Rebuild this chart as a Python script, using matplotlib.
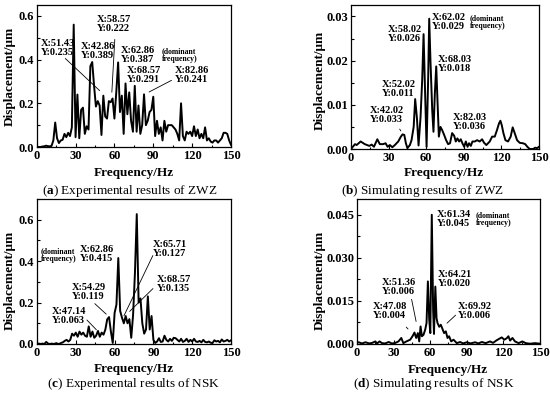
import numpy as np
import matplotlib
matplotlib.use('Agg')
import matplotlib.pyplot as plt
from matplotlib.ticker import MultipleLocator, FormatStrFormatter

plt.rcParams['font.family'] = 'Liberation Serif'
plt.rcParams['mathtext.fontset'] = 'custom'
plt.rcParams['mathtext.rm'] = 'Liberation Serif'
plt.rcParams['mathtext.bf'] = 'Liberation Serif:bold'

# frequency bins of the measured spectra (Hz)
freq_exp = [
    0.00, 1.43, 2.86, 4.29, 5.71, 7.14, 8.57,
    10.00, 11.43, 12.86, 14.29, 15.71, 17.14, 18.57,
    20.00, 21.43, 22.86, 24.29, 25.71, 27.14, 28.57,
    30.00, 31.43, 32.86, 34.29, 35.71, 37.14, 38.57,
    40.00, 41.43, 42.86, 44.29, 45.71, 47.14, 48.57,
    50.00, 51.43, 52.86, 54.29, 55.71, 57.14, 58.57,
    60.00, 61.43, 62.86, 64.29, 65.71, 67.14, 68.57,
    70.00, 71.43, 72.86, 74.29, 75.71, 77.14, 78.57,
    80.00, 81.43, 82.86, 84.29, 85.71, 87.14, 88.57,
    90.00, 91.43, 92.86, 94.29, 95.71, 97.14, 98.57,
    100.00, 101.43, 102.86, 104.29, 105.71, 107.14, 108.57,
    110.00, 111.43, 112.86, 114.29, 115.71, 117.14, 118.57,
    120.00, 121.43, 122.86, 124.29, 125.71, 127.14, 128.57,
    130.00, 131.43, 132.86, 134.29, 135.71, 137.14, 138.57,
    140.00, 141.43, 142.86, 144.29, 145.71, 147.14, 148.57,
    150.00]

# (a) experimental, ZWZ
disp_zwz_exp = [
    0.0, 0.0, 0.0, 0.002, 0.003, 0.006, 0.004,
    0.003, 0.005, 0.03, 0.112, 0.04, 0.018, 0.03,
    0.033, 0.06, 0.045, 0.065, 0.05, 0.09, 0.56,
    0.045, 0.24, 0.04, 0.17, 0.18, 0.06, 0.095,
    0.08, 0.37, 0.389, 0.28, 0.185, 0.21, 0.19,
    0.055, 0.235, 0.14, 0.13, 0.21, 0.205, 0.222,
    0.13, 0.25, 0.387, 0.16, 0.235, 0.06, 0.291,
    0.15, 0.25, 0.12, 0.07, 0.28, 0.07, 0.19,
    0.06, 0.1, 0.241, 0.1, 0.12, 0.16, 0.17,
    0.23, 0.05, 0.12, 0.06, 0.09, 0.03, 0.12,
    0.07, 0.1, 0.1, 0.1, 0.09, 0.08, 0.06,
    0.03, 0.2, 0.05, 0.03, 0.07, 0.06, 0.07,
    0.05, 0.095, 0.05, 0.08, 0.04, 0.06, 0.04,
    0.09, 0.03, 0.04, 0.025, 0.02, 0.03, 0.03,
    0.02, 0.03, 0.04, 0.065, 0.065, 0.06, 0.03,
    0.01]

# (c) experimental, NSK
disp_nsk_exp = [
    0.0, 0.002, 0.0, 0.002, 0.0, 0.01, 0.002,
    0.0, 0.002, 0.0, 0.003, 0.002, 0.0, 0.005,
    0.008, 0.015, 0.02, 0.012, 0.02, 0.05, 0.04,
    0.055, 0.035, 0.06, 0.045, 0.055, 0.04, 0.035,
    0.085, 0.035, 0.06, 0.03, 0.04, 0.063, 0.035,
    0.055, 0.045, 0.07, 0.119, 0.13, 0.06, 0.005,
    0.15, 0.19, 0.415, 0.16, 0.127, 0.1, 0.135,
    0.1, 0.12, 0.03, 0.14, 0.34, 0.627, 0.2,
    0.22, 0.1, 0.05, 0.07, 0.23, 0.07, 0.135,
    0.02, 0.005, 0.012, 0.028, 0.01, 0.012, 0.04,
    0.02, 0.012, 0.025, 0.015, 0.03, 0.028, 0.02,
    0.012, 0.025, 0.01, 0.015, 0.025, 0.01, 0.02,
    0.012, 0.025, 0.012, 0.01, 0.015, 0.008, 0.02,
    0.01, 0.008, 0.012, 0.006, 0.005, 0.018, 0.012,
    0.015, 0.008, 0.022, 0.012, 0.015, 0.02, 0.012,
    0.018]

# (b) simulation, ZWZ
freq_zwz_sim = [
    0, 3.2, 4.5, 7.7, 11, 14.6, 16.5, 18.3, 21, 23, 25.6, 27.6, 29.2, 31,
    33, 35, 37.7, 39.8, 41.1, 42.5, 43.8, 45, 47, 48.3, 50, 51.2, 52.6, 53.9,
    55.5, 56.8, 57.9, 59.2, 60.3, 61.6, 62.4, 63.4, 64.8, 65.8, 66.9, 68, 69,
    70.1, 71.4, 72.7, 74.3, 75.9, 77.5, 79, 80.7, 82.3, 83.6, 84.9, 86.3,
    87.6, 88.9, 90.3, 91.6, 93, 94.2, 95.6, 96.9, 98.8, 100.6, 102.7, 104.6,
    106.2, 108, 110.7, 112.6, 114.7, 116.5, 118.1, 119.2, 120.3, 121.6,
    123.2, 125.3, 127.4, 129, 130.6, 132.5, 134.6, 137.2, 139, 140.7, 142.6,
    145.2, 147, 148.5, 150]
disp_zwz_sim = [
    0, 0.0011, 0.0009, 0.0017, 0.0011, 0.0007, 0.001, 0.0005, 0.0022, 0.0011,
    0.0011, 0.0013, 0.0005, 0.0009, 0.0004, 0.0009, 0.0017, 0.0028, 0.0033,
    0.0032, 0.0013, 0.0002, 0.0009, 0.002, 0.005, 0.0113, 0.007, 0.0008,
    0.0073, 0.0156, 0.026, 0.0119, 0.0005, 0.0164, 0.0295, 0.02, 0.0088,
    0.0039, 0.0126, 0.0187, 0.011, 0.0028, 0.005, 0.0043, 0.0032, 0.002,
    0.0011, 0.0013, 0.0036, 0.003, 0.0017, 0.0024, 0.0017, 0.0022, 0.0013,
    0.0005, 0.0017, 0.0005, 0.0013, 0.0007, 0.0017, 0.0017, 0.002, 0.0017,
    0.0022, 0.0014, 0.0009, 0.0017, 0.0028, 0.0028, 0.0043, 0.0058, 0.0064,
    0.0054, 0.0036, 0.002, 0.0017, 0.0028, 0.0049, 0.0036, 0.002, 0.0014,
    0.0013, 0.0011, 0.0005, 0.0, 0.0, 0.0003, 0.0002, 0.0005]

# (d) simulation, NSK
freq_nsk_sim = [
    0, 1.5, 4, 7, 10, 12.5, 15, 16.5, 18.5, 20.5, 23, 26, 28.5, 31, 34, 36.3,
    38, 40.5, 43.6, 45.5, 47.1, 48.5, 49.9, 51, 52.1, 53.2, 54.5, 55.9, 57,
    58.1, 59.2, 60.1, 61.3, 62.4, 63.1, 64.2, 65.2, 66, 67.4, 68.7, 70.1,
    71.4, 72.8, 74.2, 75.5, 77.2, 79.1, 81.8, 84.5, 87, 90, 93, 96.8, 99.5,
    102.3, 105.5, 109, 111.5, 114.5, 118.6, 120.8, 122.7, 124.1, 125.5,
    127.4, 129.5, 132.5, 135.5, 138.3, 141.8, 146, 150]
disp_nsk_sim = [
    0.0005, 0.0006, 0.0002, 0.0006, 0.0002, 0.0004, 0.0009, 0.0002, 0.0009,
    0.0003, 0.0002, 0.0007, 0.0002, 0.0003, 0.0009, 0.0021, 0.0003, 0.0009,
    0.0015, 0.0027, 0.004, 0.0021, 0.0038, 0.0009, 0.0061, 0.0027, 0.0032,
    0.005, 0.0073, 0.0218, 0.0085, 0.0038, 0.045, 0.012, 0.0035, 0.020,
    0.009, 0.0073, 0.006, 0.0067, 0.0052, 0.0038, 0.0044, 0.0021, 0.0027,
    0.0009, 0.0015, 0.0003, 0.0007, 0.0002, 0.0006, 0.0002, 0.0006, 0.0002,
    0.0007, 0.0003, 0.0009, 0.0004, 0.0013, 0.0023, 0.0015, 0.002, 0.0027,
    0.0012, 0.0021, 0.0009, 0.0003, 0.0009, 0.0003, 0.0001, 0.0003, 0.0001]

W, H = 550, 393


def rect(left, top, right, bottom):
    return [left / W, 1 - bottom / H, (right - left) / W, (bottom - top) / H]


def style(ax, ymax, ymaj, fmt):
    ax.set_xlim(0, 150)
    ax.set_ylim(0, ymax)
    ax.xaxis.set_major_locator(MultipleLocator(30))
    ax.xaxis.set_minor_locator(MultipleLocator(15))
    ax.yaxis.set_major_locator(MultipleLocator(ymaj))
    ax.yaxis.set_minor_locator(MultipleLocator(ymaj / 2))
    ax.yaxis.set_major_formatter(FormatStrFormatter(fmt))
    ax.tick_params(which='both', direction='in', width=0.8, pad=2)
    ax.tick_params(which='major', length=3)
    ax.tick_params(which='minor', length=1.8)
    for lab in ax.get_xticklabels() + ax.get_yticklabels():
        lab.set_fontweight('bold')
        lab.set_fontsize(9)
    for s in ax.spines.values():
        s.set_linewidth(0.9)


def note(ax, x, y, s, size=7.5):
    ax.text(x, y, s, transform=ax.transAxes, fontsize=size, fontweight='bold',
            ha='left', va='top', linespacing=1.0)


def leader(ax, start, end):
    ax.annotate('', xy=end, xytext=start,
                arrowprops=dict(arrowstyle='-', color='black', lw=0.6))


fig = plt.figure(figsize=(5.5, 3.93), dpi=100)

axa = fig.add_axes(rect(36.7, 5, 231, 147))
axb = fig.add_axes(rect(351, 5, 539, 149))
axc = fig.add_axes(rect(37, 199, 231, 344))
axd = fig.add_axes(rect(357, 199, 540, 344))

axa.plot(freq_exp, disp_zwz_exp, color='black', lw=1.4)
axb.plot(freq_zwz_sim, disp_zwz_sim, color='black', lw=1.4)
axc.plot(freq_exp, disp_nsk_exp, color='black', lw=1.4)
axd.plot(freq_nsk_sim, disp_nsk_sim, color='black', lw=1.4)

style(axa, 0.65, 0.2, '%.1f')
style(axb, 0.0326, 0.01, '%.2f')
style(axc, 0.70, 0.2, '%.1f')
style(axd, 0.0505, 0.015, '%.3f')

# (a) annotations
note(axa, 0.022, 0.758, 'X:51.43\nY:0.235')
leader(axa, (20.5, 0.414), (50.2, 0.249))
note(axa, 0.309, 0.93, 'X:58.57\nY:0.222')
leader(axa, (60.4, 0.505), (57.9, 0.238))
note(axa, 0.228, 0.742, 'X:42.86\nY:0.389')
note(axa, 0.432, 0.711, 'X:62.86\nY:0.387')
note(axa, 0.645, 0.704, '(dominant\nfrequency)', size=5.6)
note(axa, 0.463, 0.570, 'X:68.57\nY:0.291')
note(axa, 0.712, 0.570, 'X:82.86\nY:0.241')
leader(axa, (106, 0.311), (84.9, 0.246))

# (b) annotations
note(axb, 0.431, 0.944, 'X:62.02\nY:0.029')
note(axb, 0.632, 0.938, '(dominant\nfrequency)', size=5.6)
note(axb, 0.197, 0.861, 'X:58.02\nY:0.026')
note(axb, 0.463, 0.653, 'X:68.03\nY:0.018')
note(axb, 0.165, 0.479, 'X:52.02\nY:0.011')
note(axb, 0.101, 0.299, 'X:42.02\nY:0.033')
leader(axb, (37.7, 0.00505), (40.9, 0.00355))
note(axb, 0.543, 0.25, 'X:82.03\nY:0.036')

# (c) annotations
note(axc, 0.018, 0.669, '(dominant\nfrequency)', size=5.6)
note(axc, 0.222, 0.683, 'X:62.86\nY:0.415')
note(axc, 0.598, 0.717, 'X:65.71\nY:0.127')
leader(axc, (90.5, 0.439), (66.3, 0.124))
note(axc, 0.180, 0.421, 'X:54.29\nY:0.119')
leader(axc, (43.1, 0.204), (55.1, 0.135))
note(axc, 0.619, 0.476, 'X:68.57\nY:0.135')
leader(axc, (91.2, 0.277), (70.1, 0.148))
note(axc, 0.077, 0.255, 'X:47.14\nY:0.063')
leader(axc, (37.1, 0.1255), (47.4, 0.059))

# (d) annotations
note(axd, 0.437, 0.924, 'X:61.34\nY:0.045')
note(axd, 0.65, 0.917, '(dominant\nfrequency)', size=5.6)
note(axd, 0.443, 0.510, 'X:64.21\nY:0.020')
note(axd, 0.137, 0.455, 'X:51.36\nY:0.006')
leader(axd, (44.3, 0.0165), (48.9, 0.0069))
note(axd, 0.087, 0.290, 'X:47.08\nY:0.004')
leader(axd, (38.8, 0.0066), (43.4, 0.0045))
note(axd, 0.552, 0.290, 'X:69.92\nY:0.006')
leader(axd, (82.5, 0.0107), (72.1, 0.0066))

# axis labels and captions placed in figure pixels
labels = [
    (134, 172.7, 443.3, 173, 10, 76.7, 320, 80.8),
    (134, 369, 448, 370, 10, 280, 320, 280),
]
for xa, ya, xb, yb, yxa, yya, yxb, yyb in labels:
    for x, y in [(xa, ya), (xb, yb)]:
        fig.text(x / W, 1 - y / H, 'Frequency/Hz', ha='center', va='center',
                 fontsize=9.5, fontweight='bold')
    for x, y in [(yxa, yya), (yxb, yyb)]:
        fig.text(x / W, 1 - y / H, 'Displacement/μm', ha='center', va='center',
                 fontsize=9.5, fontweight='bold', rotation=90)

captions = [
    (129.7, 191, r'($\mathbf{a}$) Experimental results of ZWZ'),
    (423, 191, r'($\mathbf{b}$) Simulating results of ZWZ'),
    (134, 384, r'($\mathbf{c}$) Experimental results of NSK'),
    (434, 384, r'($\mathbf{d}$) Simulating results of NSK'),
]
for x, y, s in captions:
    fig.text(x / W, 1 - y / H, s, ha='center', va='center', fontsize=9.5)

fig.savefig('out.png', dpi=100)
